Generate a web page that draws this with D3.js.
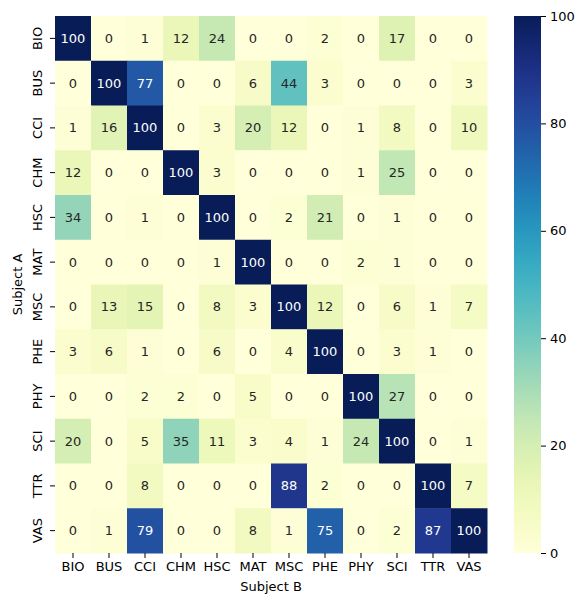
<!DOCTYPE html>
<html>
<head>
<meta charset="utf-8">
<script src="https://cdn.jsdelivr.net/npm/d3@7"></script>
<style>
  body { margin: 0; background: #fff; }
  text { font-family: "DejaVu Sans", sans-serif; }
</style>
</head>
<body>
<svg id="canvas"></svg>
<script>
const subjects = ["BIO", "BUS", "CCI", "CHM", "HSC", "MAT", "MSC", "PHE", "PHY", "SCI", "TTR", "VAS"]

// rows = Subject A, columns = Subject B
const values = [
  [100, 0, 1, 12, 24, 0, 0, 2, 0, 17, 0, 0],
  [0, 100, 77, 0, 0, 6, 44, 3, 0, 0, 0, 3],
  [1, 16, 100, 0, 3, 20, 12, 0, 1, 8, 0, 10],
  [12, 0, 0, 100, 3, 0, 0, 0, 1, 25, 0, 0],
  [34, 0, 1, 0, 100, 0, 2, 21, 0, 1, 0, 0],
  [0, 0, 0, 0, 1, 100, 0, 0, 2, 1, 0, 0],
  [0, 13, 15, 0, 8, 3, 100, 12, 0, 6, 1, 7],
  [3, 6, 1, 0, 6, 0, 4, 100, 0, 3, 1, 0],
  [0, 0, 2, 2, 0, 5, 0, 0, 100, 27, 0, 0],
  [20, 0, 5, 35, 11, 3, 4, 1, 24, 100, 0, 1],
  [0, 0, 8, 0, 0, 0, 88, 2, 0, 0, 100, 7],
  [0, 1, 79, 0, 0, 8, 1, 75, 0, 2, 87, 100]
]

const colorTicks = [0, 20, 40, 60, 80, 100]

const width = 579
const height = 598
const mapLeft = 55, mapTop = 16, mapRight = 487, mapBottom = 553
const barLeft = 514, barRight = 541
const fontSize = 13

const canvas = d3.select("#canvas").attr("width", width).attr("height", height)

const xScale = d3.scaleBand().domain(subjects).range([mapLeft, mapRight])
const yScale = d3.scaleBand().domain(subjects).range([mapTop, mapBottom])
const color = d3.scaleSequential(d3.interpolateYlGnBu).domain([0, 100])

const cells = []
values.forEach((row, i) => row.forEach((v, j) => cells.push({ a: subjects[i], b: subjects[j], v: v })))

// seaborn picks annotation colour from the cell's luminance
const luminance = (c) => {
  const rgb = d3.rgb(c)
  const ch = [rgb.r, rgb.g, rgb.b].map(x => {
    x = x / 255
    return x <= 0.03928 ? x / 12.92 : Math.pow((x + 0.055) / 1.055, 2.4)
  })
  return 0.2126 * ch[0] + 0.7152 * ch[1] + 0.0722 * ch[2]
}

canvas.append("g").selectAll("rect")
  .data(cells)
  .enter()
  .append("rect")
  .attr("x", d => xScale(d.b))
  .attr("y", d => yScale(d.a))
  .attr("width", xScale.bandwidth() + 0.5)
  .attr("height", yScale.bandwidth() + 0.5)
  .attr("fill", d => color(d.v))

canvas.append("g").selectAll("text")
  .data(cells)
  .enter()
  .append("text")
  .attr("x", d => xScale(d.b) + xScale.bandwidth() / 2)
  .attr("y", d => yScale(d.a) + yScale.bandwidth() / 2)
  .attr("text-anchor", "middle")
  .attr("dominant-baseline", "central")
  .attr("font-size", fontSize)
  .attr("fill", d => luminance(color(d.v)) > 0.408 ? "#262626" : "#ffffff")
  .text(d => d.v)

// axes
const xAxis = d3.axisBottom(xScale).tickSize(5).tickPadding(4)
const yAxis = d3.axisLeft(yScale).tickSize(5).tickPadding(4)

const gx = canvas.append("g")
  .attr("transform", "translate(0," + mapBottom + ")")
  .call(xAxis)
gx.select(".domain").remove()
gx.selectAll("text").attr("font-size", fontSize).attr("fill", "#000")
gx.selectAll("line").attr("stroke", "#000")

const gy = canvas.append("g")
  .attr("transform", "translate(" + mapLeft + ",0)")
  .call(yAxis)
gy.select(".domain").remove()
gy.selectAll("line").attr("stroke", "#000")
gy.selectAll("text")
  .attr("font-size", fontSize)
  .attr("fill", "#000")
  .attr("text-anchor", "middle")
  .attr("dy", null)
  .attr("x", -18)
  .attr("y", 0)
  .attr("transform", "rotate(-90," + (-18) + ",0)")
  .attr("dominant-baseline", "central")

canvas.append("text")
  .attr("x", (mapLeft + mapRight) / 2)
  .attr("y", 591)
  .attr("text-anchor", "middle")
  .attr("font-size", fontSize)
  .text("Subject B")

canvas.append("text")
  .attr("transform", "translate(22," + (mapTop + mapBottom) / 2 + ") rotate(-90)")
  .attr("text-anchor", "middle")
  .attr("font-size", fontSize)
  .text("Subject A")

// colorbar
const defs = canvas.append("defs")
const grad = defs.append("linearGradient")
  .attr("id", "cbar")
  .attr("x1", 0).attr("y1", 1).attr("x2", 0).attr("y2", 0)
d3.range(0, 101, 5).forEach(t => {
  grad.append("stop").attr("offset", t + "%").attr("stop-color", color(t))
})

canvas.append("rect")
  .attr("x", barLeft)
  .attr("y", mapTop)
  .attr("width", barRight - barLeft)
  .attr("height", mapBottom - mapTop)
  .attr("fill", "url(#cbar)")

const cScale = d3.scaleLinear().domain([0, 100]).range([mapBottom, mapTop])
const gc = canvas.append("g")
  .attr("transform", "translate(" + barRight + ",0)")
  .call(d3.axisRight(cScale).tickValues(colorTicks).tickSize(5).tickPadding(4))
gc.select(".domain").remove()
gc.selectAll("line").attr("stroke", "#000")
gc.selectAll("text").attr("font-size", fontSize).attr("fill", "#000")
</script>
</body>
</html>
